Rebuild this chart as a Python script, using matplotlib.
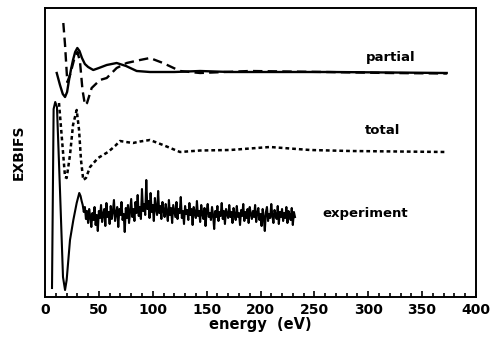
import matplotlib
matplotlib.use('Agg')
import matplotlib.pyplot as plt
from matplotlib.ticker import MultipleLocator

# ---------------- data (energy in eV, signal in arbitrary units) ----------------
partial_E = [10.9, 13.9, 16.5, 18.6, 20.5, 22.3, 24.2, 26.0, 28.0, 30.0, 32.0, 34.3, 37.0,
             40.0, 44.8, 50.0, 57.3, 66.5, 75.2, 85.1, 97.4, 120.0, 143.9, 171.7, 220.0,
             264.5, 320.0, 372.8]
partial_y = [224, 212, 203, 200, 205, 217, 228, 237, 245, 249, 246, 239, 233,
             230, 227, 229, 232, 234, 231, 226, 225, 225, 226, 225, 225,
             225, 224.5, 224]

partial_dash_E = [17.0, 18.6, 20.7, 23.2, 26.9, 30.2, 32.5, 34.8, 37.1, 39.0, 43.3, 51.0,
                  57.3, 66.5, 75.8, 88.2, 97.4, 109.5, 125.3, 143.9, 190.0, 260.0, 320.0, 373.0]
partial_dash_y = [274, 252, 215, 222, 237, 245, 235, 207, 192, 194, 209, 217,
                  219, 229, 234, 237, 239, 234, 226, 224, 226, 225, 224, 223.5]

total_E = [13.0, 15.8, 18.6, 20.1, 23.2, 26.0, 29.4, 31.6, 33.4, 35.5, 38.0, 41.8, 49.2,
           58.5, 65.0, 69.6, 75.2, 81.7, 88.2, 97.4, 109.5, 125.3, 143.9, 171.7, 208.8,
           246.0, 283.0, 372.8]
total_y = [194, 157, 120, 119, 142, 172, 187, 167, 137, 117, 119, 130, 139,
           145, 151, 156, 155, 154, 155.5, 157, 152, 145, 146.5, 147, 150,
           147, 146, 145]

exp_head_E = [6.5, 8.0, 9.5, 11.1, 13.9, 16.7, 18.6, 20.1, 23.2, 26.3, 29.4, 31.8]
exp_head_y = [9, 188, 195, 190, 107, 20, 7, 17, 57, 77, 94, 104]
exp_tail_start = 33  # eV, 1 eV step
exp_tail_y = [
    101, 96, 92, 85, 90, 78, 86, 74, 88, 80,
    70, 84, 77, 90, 72, 82, 66, 86, 79, 92,
    75, 83, 88, 71, 94, 80, 85, 73, 91, 78,
    86, 97, 76, 84, 90, 70, 88, 82, 95, 77,
    83, 65, 89, 79, 92, 74, 86, 98, 80, 88,
    76, 95, 84, 102, 81, 90, 78, 108, 86, 93,
    82, 117, 88, 96, 79, 104, 85, 92, 76, 99,
    88, 82, 106, 84, 91, 78, 95, 87, 80, 93,
    85, 76, 97, 82, 89, 74, 92, 86, 80, 95,
    78, 88, 84, 100, 79, 86, 73, 91, 83, 87,
    77, 94, 82, 88, 72, 90, 84, 79, 96, 81,
    86, 75, 92, 83, 78, 89, 71, 85, 93, 80,
    84, 77, 90, 82, 68, 86, 80, 91, 76, 85,
    81, 94, 78, 86, 73, 88, 83, 79, 92, 80,
    85, 74, 89, 82, 77, 91, 80, 84, 72, 87,
    81, 93, 76, 85, 79, 88, 74, 90, 83, 78,
    86, 80, 92, 75, 84, 89, 77, 83, 71, 88,
    80, 66, 85, 90, 76, 83, 79, 93, 81, 74,
    87, 82, 78, 91, 73, 85, 80, 88, 76, 84,
    79, 90, 74, 86, 82, 77, 89, 72, 85, 80,
]
exp_tail_E = [exp_tail_start + i for i in range(len(exp_tail_y))]
exp_E = exp_head_E + exp_tail_E
exp_y = exp_head_y + exp_tail_y

x_ticks = [0, 50, 100, 150, 200, 250, 300, 350, 400]
labels = {"partial": (298.0, 239), "total": (297.0, 167), "experiment": (257.0, 84)}

# ---------------- figure ----------------
plt.rcParams['font.family'] = ['DejaVu Sans']
fig = plt.figure(figsize=(4.92, 3.39), dpi=100)
ax = fig.add_axes([45 / 492, 1 - 297 / 339, 431 / 492, 289 / 339])

ax.plot(partial_E, partial_y, color='black', lw=1.7, solid_joinstyle='round')
ax.plot(partial_dash_E, partial_dash_y, color='black', lw=1.7, dashes=(4, 2.2))
ax.plot(total_E, total_y, color='black', lw=1.8, dashes=(1.5, 1.2))
ax.plot(exp_E, exp_y, color='black', lw=1.5)

for name, (xx, yy) in labels.items():
    ax.text(xx, yy, name, fontsize=9.5, fontweight='bold', ha='left', va='center')

ax.set_xlim(0, 400)
ax.set_ylim(0, 289)
ax.set_xticks(x_ticks)
ax.set_xticklabels([str(t) for t in x_ticks], fontsize=10, fontweight='bold')
ax.xaxis.set_minor_locator(MultipleLocator(10))
ax.tick_params(axis='x', which='major', direction='in', length=4, width=1.2, pad=4,
               top=False)
ax.tick_params(axis='x', which='minor', direction='in', length=3, width=1.2, top=False)
ax.set_yticks([])
for sp in ax.spines.values():
    sp.set_linewidth(1.4)

ax.set_xlabel('energy  (eV)', fontsize=10.5, fontweight='bold', labelpad=0.5)
ax.set_ylabel('EXBIFS', fontsize=10, fontweight='bold', labelpad=14)

fig.savefig('out.png', dpi=100)
